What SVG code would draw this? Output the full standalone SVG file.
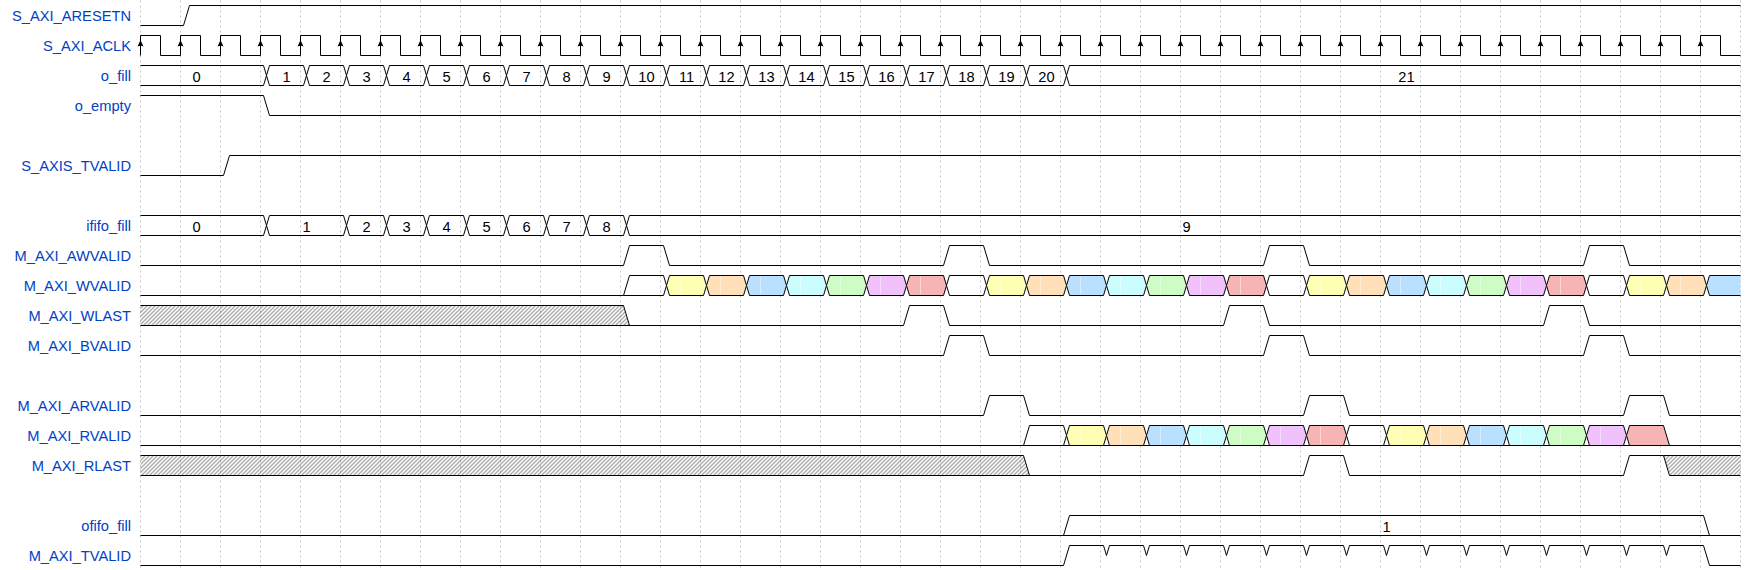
<svg xmlns="http://www.w3.org/2000/svg" xmlns:xlink="http://www.w3.org/1999/xlink" width="1760" height="570" viewBox="0 0 1760 570">
<style>
.lbl{font-family:"Liberation Sans",Arial,Helvetica,sans-serif;font-size:14.67px;fill:#0041c4;text-anchor:end}
.dt{font-family:"Liberation Sans",Arial,Helvetica,sans-serif;font-size:14.67px;fill:#000;text-anchor:middle}
.w{fill:none;stroke:#000;stroke-width:1}
.grid{fill:none;stroke:#888;stroke-width:0.5;stroke-dasharray:2,3}
.c2{fill:none}.c3{fill:#ffffb4}.c4{fill:#ffe0b9}.c5{fill:#b9e0ff}.c6{fill:#ccfdfe}.c7{fill:#cdfdc5}.c8{fill:#f0c1fb}.c9{fill:#f6b4b5}
.d{stroke:#000;stroke-width:1}
.hx{fill:url(#hatch);stroke:none}
</style>
<defs>
<pattern id="hatch" width="4" height="4" patternUnits="userSpaceOnUse"><path d="M-1,1l2,-2M0,4l4,-4M3,5l2,-2" stroke="#222" stroke-width="0.75"/></pattern>
<g id="cell"><path d="M6,10L9,0H43L46,10L43,20H9Z" stroke="#000" stroke-width="1"/><path d="M20,1V19" stroke="#fff" stroke-opacity="0.45" stroke-width="1"/></g>
<path id="arr" d="M0,4.5L-3,11Q0,9.5 3,11Z" fill="#000"/>
</defs>
<rect width="1760" height="570" fill="#fff"/>
<g transform="translate(0.5,0.5)">
<g id="grid">
<path class="grid" d="M140,0V570M180,0V570M220,0V570M260,0V570M300,0V570M340,0V570M380,0V570M420,0V570M460,0V570M500,0V570M540,0V570M580,0V570M620,0V570M660,0V570M700,0V570M740,0V570M780,0V570M820,0V570M860,0V570M900,0V570M940,0V570M980,0V570M1020,0V570M1060,0V570M1100,0V570M1140,0V570M1180,0V570M1220,0V570M1260,0V570M1300,0V570M1340,0V570M1380,0V570M1420,0V570M1460,0V570M1500,0V570M1540,0V570M1580,0V570M1620,0V570M1660,0V570M1700,0V570M1740,0V570"/>
</g>
<g id="connectors"></g>

<g id="sig-S_AXI_ARESETN">
<text class="lbl" x="130.5" y="20.5">S_AXI_ARESETN</text>
<path class="w" d="M140,25H183L189,5H1740"/>
</g>

<g id="sig-S_AXI_ACLK">
<text class="lbl" x="130.5" y="50.5">S_AXI_ACLK</text>
<path class="w" d="M140,55
V35H160V55H180 V35H200V55H220 V35H240V55H260 V35H280V55H300 V35H320V55H340 V35H360V55H380 V35H400V55H420 V35H440V55H460 V35H480V55H500 V35H520V55H540
V35H560V55H580 V35H600V55H620 V35H640V55H660 V35H680V55H700 V35H720V55H740 V35H760V55H780 V35H800V55H820 V35H840V55H860 V35H880V55H900 V35H920V55H940
V35H960V55H980 V35H1000V55H1020 V35H1040V55H1060 V35H1080V55H1100 V35H1120V55H1140 V35H1160V55H1180 V35H1200V55H1220 V35H1240V55H1260 V35H1280V55H1300 V35H1320V55H1340
V35H1360V55H1380 V35H1400V55H1420 V35H1440V55H1460 V35H1480V55H1500 V35H1520V55H1540 V35H1560V55H1580 V35H1600V55H1620 V35H1640V55H1660 V35H1680V55H1700 V35H1720V55H1740"/>
<g>
<use xlink:href="#arr" x="140" y="35"/><use xlink:href="#arr" x="180" y="35"/><use xlink:href="#arr" x="220" y="35"/><use xlink:href="#arr" x="260" y="35"/><use xlink:href="#arr" x="300" y="35"/><use xlink:href="#arr" x="340" y="35"/><use xlink:href="#arr" x="380" y="35"/><use xlink:href="#arr" x="420" y="35"/><use xlink:href="#arr" x="460" y="35"/><use xlink:href="#arr" x="500" y="35"/><use xlink:href="#arr" x="540" y="35"/><use xlink:href="#arr" x="580" y="35"/><use xlink:href="#arr" x="620" y="35"/><use xlink:href="#arr" x="660" y="35"/><use xlink:href="#arr" x="700" y="35"/><use xlink:href="#arr" x="740" y="35"/><use xlink:href="#arr" x="780" y="35"/><use xlink:href="#arr" x="820" y="35"/><use xlink:href="#arr" x="860" y="35"/><use xlink:href="#arr" x="900" y="35"/><use xlink:href="#arr" x="940" y="35"/><use xlink:href="#arr" x="980" y="35"/><use xlink:href="#arr" x="1020" y="35"/><use xlink:href="#arr" x="1060" y="35"/><use xlink:href="#arr" x="1100" y="35"/><use xlink:href="#arr" x="1140" y="35"/><use xlink:href="#arr" x="1180" y="35"/><use xlink:href="#arr" x="1220" y="35"/><use xlink:href="#arr" x="1260" y="35"/><use xlink:href="#arr" x="1300" y="35"/><use xlink:href="#arr" x="1340" y="35"/><use xlink:href="#arr" x="1380" y="35"/><use xlink:href="#arr" x="1420" y="35"/><use xlink:href="#arr" x="1460" y="35"/><use xlink:href="#arr" x="1500" y="35"/><use xlink:href="#arr" x="1540" y="35"/><use xlink:href="#arr" x="1580" y="35"/><use xlink:href="#arr" x="1620" y="35"/><use xlink:href="#arr" x="1660" y="35"/><use xlink:href="#arr" x="1700" y="35"/>
</g>
</g>

<g id="sig-o_fill">
<text class="lbl" x="130.5" y="80.5">o_fill</text>
<path class="w" d="M140,65H263L266,75L263,85H140"/>
<use xlink:href="#cell" class="c2" x="260" y="65"/><use xlink:href="#cell" class="c2" x="300" y="65"/><use xlink:href="#cell" class="c2" x="340" y="65"/><use xlink:href="#cell" class="c2" x="380" y="65"/><use xlink:href="#cell" class="c2" x="420" y="65"/><use xlink:href="#cell" class="c2" x="460" y="65"/><use xlink:href="#cell" class="c2" x="500" y="65"/><use xlink:href="#cell" class="c2" x="540" y="65"/><use xlink:href="#cell" class="c2" x="580" y="65"/><use xlink:href="#cell" class="c2" x="620" y="65"/><use xlink:href="#cell" class="c2" x="660" y="65"/><use xlink:href="#cell" class="c2" x="700" y="65"/><use xlink:href="#cell" class="c2" x="740" y="65"/><use xlink:href="#cell" class="c2" x="780" y="65"/><use xlink:href="#cell" class="c2" x="820" y="65"/><use xlink:href="#cell" class="c2" x="860" y="65"/><use xlink:href="#cell" class="c2" x="900" y="65"/><use xlink:href="#cell" class="c2" x="940" y="65"/><use xlink:href="#cell" class="c2" x="980" y="65"/><use xlink:href="#cell" class="c2" x="1020" y="65"/>
<path class="w" d="M1740,65H1069L1066,75L1069,85H1740"/>
<text class="dt" x="196" y="81">0</text><text class="dt" x="286" y="81">1</text><text class="dt" x="326" y="81">2</text><text class="dt" x="366" y="81">3</text><text class="dt" x="406" y="81">4</text><text class="dt" x="446" y="81">5</text><text class="dt" x="486" y="81">6</text><text class="dt" x="526" y="81">7</text><text class="dt" x="566" y="81">8</text><text class="dt" x="606" y="81">9</text><text class="dt" x="646" y="81">10</text><text class="dt" x="686" y="81">11</text><text class="dt" x="726" y="81">12</text><text class="dt" x="766" y="81">13</text><text class="dt" x="806" y="81">14</text><text class="dt" x="846" y="81">15</text><text class="dt" x="886" y="81">16</text><text class="dt" x="926" y="81">17</text><text class="dt" x="966" y="81">18</text><text class="dt" x="1006" y="81">19</text><text class="dt" x="1046" y="81">20</text><text class="dt" x="1406" y="81">21</text>
</g>

<g id="sig-o_empty">
<text class="lbl" x="130.5" y="110.5">o_empty</text>
<path class="w" d="M140,95H263L269,115H1740"/>
</g>

<g id="sig-S_AXIS_TVALID">
<text class="lbl" x="130.5" y="170.5">S_AXIS_TVALID</text>
<path class="w" d="M140,175H223L229,155H1740"/>
</g>

<g id="sig-ififo_fill">
<text class="lbl" x="130.5" y="230.5">ififo_fill</text>
<path class="w" d="M140,215H263L266,225L263,235H140"/>
<path class="w" d="M266,225L269,215H343L346,225L343,235H269Z"/>
<use xlink:href="#cell" class="c2" x="340" y="215"/><use xlink:href="#cell" class="c2" x="380" y="215"/><use xlink:href="#cell" class="c2" x="420" y="215"/><use xlink:href="#cell" class="c2" x="460" y="215"/><use xlink:href="#cell" class="c2" x="500" y="215"/><use xlink:href="#cell" class="c2" x="540" y="215"/><use xlink:href="#cell" class="c2" x="580" y="215"/>
<path class="w" d="M1740,215H629L626,225L629,235H1740"/>
<text class="dt" x="196" y="231">0</text><text class="dt" x="306" y="231">1</text><text class="dt" x="366" y="231">2</text><text class="dt" x="406" y="231">3</text><text class="dt" x="446" y="231">4</text><text class="dt" x="486" y="231">5</text><text class="dt" x="526" y="231">6</text><text class="dt" x="566" y="231">7</text><text class="dt" x="606" y="231">8</text><text class="dt" x="1186" y="231">9</text>
</g>

<g id="sig-M_AXI_AWVALID">
<text class="lbl" x="130.5" y="260.5">M_AXI_AWVALID</text>
<path class="w" d="M140,265H623L629,245H663L669,265H943L949,245H983L989,265H1263L1269,245H1303L1309,265H1583L1589,245H1623L1629,265H1740"/>
</g>

<g id="sig-M_AXI_WVALID">
<text class="lbl" x="130.5" y="290.5">M_AXI_WVALID</text>
<path class="w" d="M140,295H623"/>
<path class="w" d="M623,295L629,275H663L666,285L663,295Z"/>
<use xlink:href="#cell" class="c3" x="660" y="275"/><use xlink:href="#cell" class="c4" x="700" y="275"/><use xlink:href="#cell" class="c5" x="740" y="275"/><use xlink:href="#cell" class="c6" x="780" y="275"/><use xlink:href="#cell" class="c7" x="820" y="275"/><use xlink:href="#cell" class="c8" x="860" y="275"/><use xlink:href="#cell" class="c9" x="900" y="275"/><use xlink:href="#cell" class="c2" x="940" y="275"/><use xlink:href="#cell" class="c3" x="980" y="275"/><use xlink:href="#cell" class="c4" x="1020" y="275"/><use xlink:href="#cell" class="c5" x="1060" y="275"/><use xlink:href="#cell" class="c6" x="1100" y="275"/><use xlink:href="#cell" class="c7" x="1140" y="275"/><use xlink:href="#cell" class="c8" x="1180" y="275"/><use xlink:href="#cell" class="c9" x="1220" y="275"/><use xlink:href="#cell" class="c2" x="1260" y="275"/><use xlink:href="#cell" class="c3" x="1300" y="275"/><use xlink:href="#cell" class="c4" x="1340" y="275"/><use xlink:href="#cell" class="c5" x="1380" y="275"/><use xlink:href="#cell" class="c6" x="1420" y="275"/><use xlink:href="#cell" class="c7" x="1460" y="275"/><use xlink:href="#cell" class="c8" x="1500" y="275"/><use xlink:href="#cell" class="c9" x="1540" y="275"/><use xlink:href="#cell" class="c2" x="1580" y="275"/><use xlink:href="#cell" class="c3" x="1620" y="275"/><use xlink:href="#cell" class="c4" x="1660" y="275"/>
<path class="c5 d" d="M1740,275H1709L1706,285L1709,295H1740"/>
</g>

<g id="sig-M_AXI_WLAST">
<text class="lbl" x="130.5" y="320.5">M_AXI_WLAST</text>
<path class="hx" d="M140,305H623L629,325H140Z"/>
<path class="w" d="M140,305H623L629,325"/>
<path class="w" d="M140,325H903L909,305H943L949,325H1223L1229,305H1263L1269,325H1543L1549,305H1583L1589,325H1740"/>
</g>

<g id="sig-M_AXI_BVALID">
<text class="lbl" x="130.5" y="350.5">M_AXI_BVALID</text>
<path class="w" d="M140,355H943L949,335H983L989,355H1263L1269,335H1303L1309,355H1583L1589,335H1623L1629,355H1740"/>
</g>

<g id="sig-M_AXI_ARVALID">
<text class="lbl" x="130.5" y="410.5">M_AXI_ARVALID</text>
<path class="w" d="M140,415H983L989,395H1023L1029,415H1303L1309,395H1343L1349,415H1623L1629,395H1663L1669,415H1740"/>
</g>

<g id="sig-M_AXI_RVALID">
<text class="lbl" x="130.5" y="440.5">M_AXI_RVALID</text>
<path class="w" d="M140,445H1740"/>
<path class="w" d="M1023,445L1029,425H1063L1066,435L1063,445Z"/>
<use xlink:href="#cell" class="c3" x="1060" y="425"/><use xlink:href="#cell" class="c4" x="1100" y="425"/><use xlink:href="#cell" class="c5" x="1140" y="425"/><use xlink:href="#cell" class="c6" x="1180" y="425"/><use xlink:href="#cell" class="c7" x="1220" y="425"/><use xlink:href="#cell" class="c8" x="1260" y="425"/><use xlink:href="#cell" class="c9" x="1300" y="425"/><use xlink:href="#cell" class="c2" x="1340" y="425"/><use xlink:href="#cell" class="c3" x="1380" y="425"/><use xlink:href="#cell" class="c4" x="1420" y="425"/><use xlink:href="#cell" class="c5" x="1460" y="425"/><use xlink:href="#cell" class="c6" x="1500" y="425"/><use xlink:href="#cell" class="c7" x="1540" y="425"/><use xlink:href="#cell" class="c8" x="1580" y="425"/>
<path class="c9 d" d="M1626,435L1629,425H1663L1669,445H1629Z"/>
</g>

<g id="sig-M_AXI_RLAST">
<text class="lbl" x="130.5" y="470.5">M_AXI_RLAST</text>
<path class="hx" d="M140,455H1023L1029,475H140Z"/>
<path class="w" d="M140,455H1023L1029,475"/>
<path class="w" d="M140,475H1303L1309,455H1343L1349,475H1623L1629,455H1663L1669,475H1740"/>
<path class="hx" d="M1663,455H1740V475H1669Z"/>
<path class="w" d="M1663,455H1740"/>
</g>

<g id="sig-ofifo_fill">
<text class="lbl" x="130.5" y="530.5">ofifo_fill</text>
<path class="w" d="M140,535H1740"/>
<path class="w" d="M1063,535L1069,515H1703L1709,535"/>
<text class="dt" x="1386" y="531">1</text>
</g>

<g id="sig-M_AXI_TVALID">
<text class="lbl" x="130.5" y="560.5">M_AXI_TVALID</text>
<path class="w" d="M140,565H1063L1069,545H1103L1106,555L1109,545H1143L1146,555L1149,545H1183L1186,555L1189,545H1223L1226,555L1229,545H1263L1266,555L1269,545H1303L1306,555L1309,545H1343L1346,555L1349,545H1383L1386,555L1389,545H1423L1426,555L1429,545H1463L1466,555L1469,545H1503L1506,555L1509,545H1543L1546,555L1549,545H1583L1586,555L1589,545H1623L1626,555L1629,545H1663L1666,555L1669,545H1703L1709,565H1740"/>
</g>
</g>
</svg>
